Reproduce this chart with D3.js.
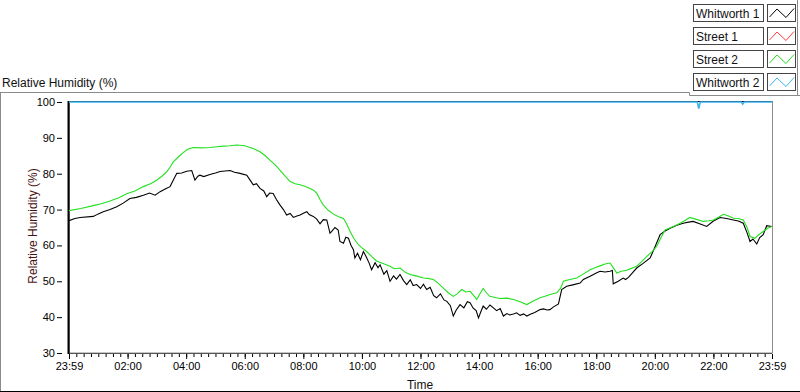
<!DOCTYPE html>
<html>
<head>
<meta charset="utf-8">
<script src="https://cdn.jsdelivr.net/npm/d3@7"></script>
<style>
  body { margin: 0; background: #fff; }
  svg { display: block; font-family: "Liberation Sans", Arial, sans-serif; }
</style>
</head>
<body>
<div id="chart"></div>
<script>
// series data, time in hours after 23:59 of the day before
var seriesNames = ["Whitworth 1", "Street 1", "Street 2", "Whitworth 2"];
var seriesColors = ["#000000", "#ff3c3c", "#22e01e", "#38b4f0"];

var w1Hours = [0.00, 0.20, 0.38, 0.83, 1.00, 1.17, 1.40, 1.63, 1.85, 2.08, 2.30, 2.54, 2.75, 2.94, 3.11, 3.30, 3.45, 3.58, 3.68, 3.85,
  4.02, 4.19, 4.30, 4.40, 4.47, 4.60, 4.81, 5.00, 5.16, 5.50, 5.65, 5.84, 6.07, 6.20, 6.29, 6.40, 6.52, 6.65, 6.75, 6.85,
  6.97, 7.08, 7.20, 7.32, 7.43, 7.55, 7.66, 7.78, 7.89, 8.00, 8.12, 8.20, 8.34, 8.45, 8.57, 8.68, 8.80, 8.91, 8.97, 9.08,
  9.19, 9.25, 9.37, 9.45, 9.54, 9.63, 9.71, 9.76, 9.85, 9.95, 10.05, 10.15, 10.25, 10.33, 10.45, 10.55, 10.62, 10.75, 10.85, 10.96,
  11.08, 11.18, 11.30, 11.42, 11.53, 11.65, 11.75, 11.87, 12.00, 12.10, 12.21, 12.33, 12.45, 12.55, 12.68, 12.80, 12.90, 13.02, 13.12, 13.22,
  13.35, 13.48, 13.60, 13.69, 13.80, 13.90, 13.98, 14.06, 14.14, 14.25, 14.37, 14.49, 14.60, 14.72, 14.83, 14.95, 15.05, 15.17, 15.28, 15.40,
  15.52, 15.63, 15.75, 15.90, 16.08, 16.20, 16.32, 16.42, 16.53, 16.71, 16.82, 16.99, 17.20, 17.45, 17.56, 17.79, 18.00, 18.13, 18.30, 18.47,
  18.55, 18.58, 18.75, 18.92, 19.00, 19.10, 19.25, 19.38, 19.60, 19.84, 20.00, 20.18, 20.35, 20.52, 20.75, 20.97, 21.15, 21.31, 21.55, 21.77,
  22.00, 22.23, 22.45, 22.68, 22.85, 23.02, 23.15, 23.25, 23.35, 23.48, 23.58, 23.70, 23.82, 23.99];
var w1Values = [66.9, 67.5, 67.8, 68.1, 68.8, 69.4, 70.0, 70.8, 71.8, 73.1, 73.4, 74.0, 74.6, 74.0, 75.0, 75.8, 76.4, 78.5, 80.1, 80.2,
  80.7, 80.9, 78.2, 79.3, 79.6, 79.2, 79.8, 80.2, 80.6, 80.9, 80.4, 80.1, 79.6, 78.0, 76.9, 77.2, 75.9, 75.2, 73.6, 74.6,
  74.5, 72.8, 71.3, 70.0, 68.5, 68.9, 67.8, 68.2, 68.5, 69.0, 69.4, 68.6, 68.1, 67.4, 66.0, 67.2, 67.1, 63.4, 63.9, 65.0,
  64.3, 61.1, 60.6, 62.3, 62.0, 60.0, 58.8, 56.5, 57.8, 56.0, 58.3, 56.8, 55.0, 53.2, 55.2, 53.8, 54.6, 52.0, 53.0, 50.0,
  51.5, 50.6, 51.9, 50.2, 49.1, 50.4, 48.8, 49.1, 48.0, 49.2, 47.7, 48.3, 46.0, 45.4, 46.5, 44.8, 44.4, 43.2, 40.3, 42.0,
  43.5, 42.6, 44.3, 44.0, 42.5, 41.8, 39.8, 41.5, 43.1, 42.2, 43.4, 42.6, 41.8, 42.4, 40.3, 41.0, 40.6, 40.9, 41.2, 40.5,
  40.9, 40.3, 40.8, 41.3, 42.1, 42.3, 42.0, 42.1, 42.8, 43.7, 47.7, 48.6, 49.0, 49.5, 50.5, 51.4, 52.3, 52.8, 52.6, 52.8,
  53.0, 49.3, 50.0, 50.9, 50.5, 51.1, 52.5, 53.7, 55.0, 56.5, 59.5, 63.0, 64.0, 64.8, 65.6, 66.2, 66.5, 66.7, 66.0, 65.3,
  66.8, 67.8, 67.5, 67.1, 66.8, 66.2, 63.5, 61.1, 61.8, 60.4, 62.2, 63.0, 65.5, 65.3];

var s1Hours = [];
var s1Values = [];

var s2Hours = [0.00, 0.40, 0.83, 1.10, 1.40, 1.70, 1.97, 2.25, 2.54, 2.80, 2.99, 3.20, 3.34, 3.45, 3.56, 3.75, 3.90, 4.05, 4.24, 4.50,
  4.81, 5.05, 5.27, 5.50, 5.73, 6.00, 6.18, 6.35, 6.52, 6.70, 6.86, 7.05, 7.20, 7.38, 7.55, 7.72, 7.89, 8.05, 8.23, 8.35,
  8.46, 8.57, 8.68, 8.85, 9.02, 9.20, 9.37, 9.48, 9.59, 9.72, 9.88, 10.00, 10.16, 10.35, 10.51, 10.70, 10.96, 11.10, 11.30, 11.48,
  11.64, 11.85, 12.10, 12.25, 12.44, 12.60, 12.78, 12.95, 13.12, 13.25, 13.41, 13.55, 13.69, 13.82, 13.92, 14.03, 14.14, 14.25, 14.37, 14.55,
  14.71, 14.95, 15.17, 15.40, 15.63, 15.85, 16.08, 16.25, 16.42, 16.65, 16.78, 16.88, 17.10, 17.33, 17.55, 17.79, 18.00, 18.13, 18.30, 18.47,
  18.58, 18.70, 18.85, 19.04, 19.20, 19.38, 19.55, 19.72, 19.90, 20.06, 20.20, 20.35, 20.55, 20.75, 21.00, 21.20, 21.45, 21.66, 21.85, 22.00,
  22.20, 22.34, 22.50, 22.68, 22.85, 23.02, 23.15, 23.25, 23.42, 23.55, 23.70, 23.85, 23.99];
var s2Values = [69.7, 70.3, 71.1, 71.6, 72.4, 73.3, 74.4, 75.2, 76.4, 77.3, 78.2, 79.5, 80.6, 81.8, 83.3, 84.8, 85.9, 86.8, 87.3, 87.2,
  87.3, 87.5, 87.7, 87.8, 88.0, 87.8, 87.3, 86.8, 86.1, 85.0, 83.8, 82.4, 81.0, 79.3, 77.8, 77.2, 76.9, 76.5, 75.9, 75.4,
  74.5, 72.8, 71.3, 69.8, 68.8, 68.0, 67.5, 66.0, 64.0, 62.0, 60.2, 59.3, 58.3, 56.8, 55.6, 55.0, 54.2, 53.5, 53.7, 52.5,
  51.9, 51.5, 50.9, 50.8, 50.5, 49.5, 48.1, 46.8, 45.8, 46.5, 47.7, 47.0, 47.2, 46.0, 44.9, 46.5, 48.0, 46.8, 45.8, 45.5,
  45.2, 45.3, 44.9, 44.3, 43.5, 44.5, 45.4, 45.8, 46.3, 46.8, 48.0, 50.0, 50.5, 50.9, 52.0, 53.2, 53.9, 54.3, 54.8, 55.1,
  53.8, 52.3, 52.8, 53.1, 53.6, 54.2, 55.5, 56.9, 58.2, 59.7, 62.0, 64.3, 65.0, 65.7, 66.8, 67.8, 67.2, 66.7, 66.9, 67.1,
  68.0, 68.7, 68.3, 67.6, 67.5, 67.1, 65.0, 62.5, 62.0, 63.0, 63.9, 64.8, 65.3];

var w2Hours = [0, 21.45, 21.5, 21.55, 22.95, 23.0, 23.05, 24];
var w2Values = [100, 100, 98.2, 100, 100, 99.4, 100, 100];

var yTicks = [30, 40, 50, 60, 70, 80, 90, 100];
var xTickHours = [0, 2, 4, 6, 8, 10, 12, 14, 16, 18, 20, 22, 24];
var xTickLabels = ["23:59", "02:00", "04:00", "06:00", "08:00", "10:00", "12:00", "14:00", "16:00", "18:00", "20:00", "22:00", "23:59"];
var xMinorHours = d3.range(0, 24.01, 0.25);

var allHours = [w1Hours, s1Hours, s2Hours, w2Hours];
var allValues = [w1Values, s1Values, s2Values, w2Values];

var svg = d3.select("#chart").append("svg")
  .attr("width", 800)
  .attr("height", 392);

var plotLeft = 69, plotRight = 772, plotTop = 102, plotBottom = 353;

var x = d3.scaleLinear().domain([0, 24]).range([plotLeft, plotRight]);
var y = d3.scaleLinear().domain([30, 100]).range([plotBottom, plotTop]);

// outer frame of the graph
svg.append("line").attr("x1", 0.5).attr("x2", 0.5).attr("y1", 92).attr("y2", 391).attr("stroke", "#8a8a8a");
svg.append("path").attr("d", "M0,92.5H689.5V95.5H800").attr("fill", "none").attr("stroke", "#8a8a8a");
svg.append("line").attr("x1", 797.5).attr("x2", 797.5).attr("y1", 0).attr("y2", 95).attr("stroke", "#8a8a8a");
svg.append("line").attr("x1", 0).attr("x2", 800).attr("y1", 391.5).attr("y2", 391.5).attr("stroke", "#000");

svg.append("text")
  .attr("x", 2)
  .attr("y", 87)
  .attr("font-size", "12px")
  .attr("fill", "#111")
  .text("Relative Humidity (%)");

// plot area
svg.append("rect")
  .attr("x", plotLeft + 0.5).attr("y", plotTop - 0.5)
  .attr("width", plotRight - plotLeft).attr("height", plotBottom - plotTop + 0.5)
  .attr("fill", "#fff").attr("stroke", "#8c8c8c");
svg.append("line").attr("x1", plotLeft).attr("x2", plotRight).attr("y1", plotTop - 0.5).attr("y2", plotTop - 0.5).attr("stroke", "#000");
svg.append("line").attr("x1", plotLeft).attr("x2", plotRight).attr("y1", plotBottom + 0.5).attr("y2", plotBottom + 0.5).attr("stroke", "#555");
svg.append("line").attr("x1", plotLeft - 0.5).attr("x2", plotLeft - 0.5).attr("y1", plotTop - 1).attr("y2", plotBottom + 1).attr("stroke", "#000").attr("stroke-width", 2);

// y axis
var yAxis = svg.append("g")
  .attr("transform", "translate(62,0)")
  .call(d3.axisLeft(y).tickValues(yTicks).tickSize(5).tickPadding(2));
yAxis.select(".domain").remove();
yAxis.selectAll("text").attr("font-size", "11px").attr("font-family", "Liberation Sans, Arial, sans-serif").attr("fill", "#000");
yAxis.selectAll("line").attr("stroke", "#000");

// x axis
var xMinor = svg.append("g")
  .attr("transform", "translate(0," + (plotBottom + 1) + ")")
  .call(d3.axisBottom(x).tickValues(xMinorHours).tickSize(3).tickFormat(""));
xMinor.select(".domain").remove();
xMinor.selectAll("line").attr("stroke", "#000");

var xAxis = svg.append("g")
  .attr("transform", "translate(0," + (plotBottom + 1) + ")")
  .call(d3.axisBottom(x).tickValues(xTickHours).tickSize(5).tickPadding(3)
    .tickFormat(function (d, i) { return xTickLabels[i]; }));
xAxis.select(".domain").remove();
xAxis.selectAll("text").attr("font-size", "11px").attr("font-family", "Liberation Sans, Arial, sans-serif").attr("fill", "#000");
xAxis.selectAll("line").attr("stroke", "#000");

svg.append("text")
  .attr("x", 420)
  .attr("y", 389)
  .attr("text-anchor", "middle")
  .attr("font-size", "12px")
  .attr("fill", "#111")
  .text("Time");

svg.append("text")
  .attr("transform", "translate(37,226) rotate(-90)")
  .attr("text-anchor", "middle")
  .attr("font-size", "12px")
  .attr("fill", "#4a1212")
  .text("Relative Humidity (%)");

// lines
svg.append("clipPath").attr("id", "plotclip")
  .append("rect").attr("x", plotLeft).attr("y", plotTop - 2).attr("width", plotRight - plotLeft).attr("height", plotBottom - plotTop + 2);

var line = d3.line()
  .x(function (d) { return x(d[0]); })
  .y(function (d) { return y(d[1]); });

var plots = svg.append("g").attr("clip-path", "url(#plotclip)");
seriesNames.forEach(function (name, i) {
  var pts = d3.zip(allHours[i], allValues[i]);
  if (pts.length < 2) return;
  plots.append("path")
    .datum(pts)
    .attr("fill", "none")
    .attr("stroke", seriesColors[i])
    .attr("stroke-width", i == 3 ? 1.6 : 1.1)
    .attr("d", line);
});

// legend
var legendTop = [4.5, 27.5, 50.5, 73.5];
seriesNames.forEach(function (name, i) {
  var ty = legendTop[i];
  svg.append("rect").attr("x", 693.5).attr("y", ty).attr("width", 70).attr("height", 17)
    .attr("fill", "#fff").attr("stroke", "#444");
  svg.append("text").attr("x", 696).attr("y", ty + 13)
    .attr("font-size", "12px").attr("fill", "#111").text(name);
  svg.append("rect").attr("x", 767.5).attr("y", ty).attr("width", 28).attr("height", 17)
    .attr("fill", "#fff").attr("stroke", "#444");
  svg.append("path")
    .attr("d", "M" + 769.5 + "," + (ty + 12.5) + "L" + 777 + "," + (ty + 4.5) + "L" + 786 + "," + (ty + 13) + "L" + 794 + "," + (ty + 4))
    .attr("fill", "none").attr("stroke", seriesColors[i]).attr("stroke-width", 1);
});
</script>
</body>
</html>
